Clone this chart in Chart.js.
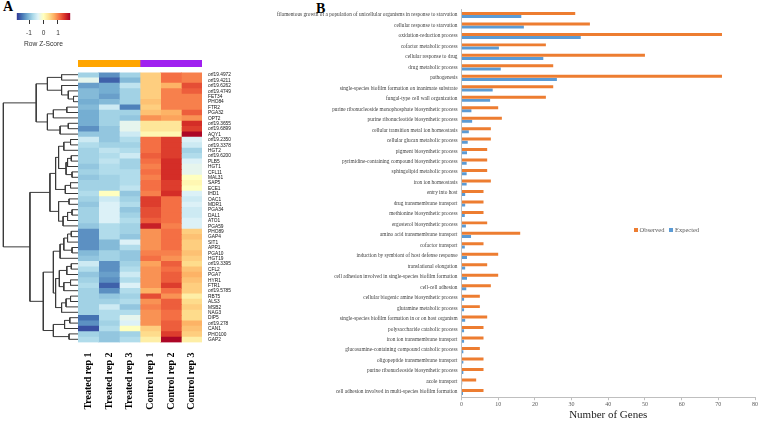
<!DOCTYPE html>
<html>
<head>
<meta charset="utf-8">
<script src="https://cdn.jsdelivr.net/npm/chart.js@4.4.0/dist/chart.umd.min.js"></script>
<style>
  html, body { margin: 0; padding: 0; background: #fff; }
  body { width: 760px; height: 421px; position: relative; overflow: hidden; }
  canvas { position: absolute; }
  .panel { position: absolute; font-family: "Liberation Serif", "Times New Roman", serif; font-weight: bold; font-size: 14px; line-height: 1; color: #000; }
  #go_legend { position: absolute; left: 634px; top: 226px; display: flex; align-items: center; font-family: "Liberation Serif", serif; font-size: 6.5px; color: #595959; white-space: nowrap; }
  #go_legend .box { display: inline-block; width: 4px; height: 4px; margin-right: 1.5px; }
  #go_legend .item { display: flex; align-items: center; margin-right: 5px; }
</style>
</head>
<body>
<div class="panel" style="left:3px; top:0px;">A</div>
<div class="panel" style="left:316px; top:2px;">B</div>
<canvas id="key" width="70" height="40" style="left:10px; top:8px; width:70px; height:40px;"></canvas>
<canvas id="groups"></canvas>
<canvas id="dendro"></canvas>
<canvas id="go" width="510" height="421" style="left:250px; top:0px; width:510px; height:421px;"></canvas>
<canvas id="heat" width="170" height="349" style="left:78px; top:72px; width:170px; height:349px;"></canvas>
<div id="go_legend"></div>
<script>
// ---- Panel A: heatmap ----
const sampleNames = ["Treated rep 1", "Treated rep 2", "Treated rep 3", "Control rep 1", "Control rep 2", "Control rep 3"];
const groupNames = ["Treated", "Control"];
const groupSizes = [3, 3];
const groupColors = ["#ffa500", "#a020f0"];

const geneNames = [
  "orf19.4972", "orf19.4211", "orf19.6262", "orf19.4749", "FET34", "PHO84", "FTR2", "PGA32", "OPT2", "orf19.3655",
  "orf19.6899", "AQY1", "orf19.2350", "orf19.3378", "HGT2", "orf19.6200", "PLB5", "HGT1", "CFL11", "MAL31",
  "SAP5", "ECE1", "IHD1", "OAC1", "MDR1", "PGA34", "DAL1", "ATO1", "PGA59", "PHO89",
  "GAP4", "SIT1", "APR1", "PGA10", "HGT19", "orf19.3395", "CFL2", "PGA7", "HYR1", "FTR1",
  "orf19.5785", "RBT5", "ALS3", "MSB2", "NAG3", "DIP5", "orf19.278", "CAN1", "PHO100", "GAP2"
];

// row z-scores, one row per gene: T1, T2, T3, C1, C2, C3
const zScores = [
  [-0.8, -1.3, -0.8, 0.5, 1.1, 1.0],
  [-0.3, -1.6, -1.0, 0.5, 1.1, 1.0],
  [-1.2, -1.1, -0.6, 0.5, 0.7, 1.3],
  [-1.0, -1.1, -0.8, 0.5, 1.0, 1.2],
  [-1.0, -1.2, -0.8, 0.5, 1.0, 1.0],
  [-1.1, -1.0, -0.8, 0.6, 1.0, 1.0],
  [-1.0, -0.5, -1.4, 0.5, 1.0, 1.0],
  [-1.1, -0.8, -0.8, 0.6, 0.7, 1.2],
  [-1.1, -0.8, -0.9, 0.9, 0.8, 0.9],
  [-1.1, -0.8, -0.3, 0.3, 0.3, 1.5],
  [-1.3, -0.9, -0.3, 0.3, 0.3, 1.4],
  [-0.9, -0.9, -0.5, 0.1, 0.1, 1.8],
  [-0.5, -0.9, -0.7, 1.1, 1.4, -0.4],
  [-0.7, -0.8, -0.8, 1.1, 1.4, -0.5],
  [-0.8, -0.6, -0.7, 1.1, 1.4, -0.8],
  [-0.8, -0.7, -0.5, 1.2, 1.4, -0.7],
  [-0.8, -0.6, -0.8, 1.1, 1.5, -0.4],
  [-0.9, -0.7, -0.8, 1.0, 1.5, -0.3],
  [-0.8, -0.7, -0.7, 1.1, 1.5, -0.3],
  [-0.9, -0.8, -0.7, 1.0, 1.5, 0.0],
  [-0.8, -0.8, -0.7, 1.1, 1.4, 0.1],
  [-0.8, -0.8, -0.6, 1.1, 1.4, 0.0],
  [-0.7, 0.0, -0.9, 1.0, 1.5, -0.4],
  [-0.8, -0.5, -0.8, 1.4, 1.1, -0.5],
  [-0.9, -0.4, -0.7, 1.4, 1.1, -0.4],
  [-0.8, -0.4, -0.9, 1.3, 1.1, -0.5],
  [-0.8, -0.4, -0.8, 1.3, 1.1, -0.5],
  [-0.8, -0.4, -0.7, 1.2, 1.1, -0.4],
  [-0.9, -0.7, -0.8, 1.6, 1.0, -0.4],
  [-1.3, -0.7, -0.8, 0.9, 1.1, 0.5],
  [-1.3, -0.7, -0.9, 0.9, 1.1, 0.6],
  [-1.3, -1.0, -0.4, 0.9, 1.1, 0.5],
  [-1.3, -1.0, -0.7, 0.9, 1.1, 0.5],
  [-1.0, -0.8, -0.9, 1.0, 1.0, 0.6],
  [-0.9, -0.8, -0.9, 1.1, 0.9, 0.5],
  [-0.5, -1.3, -0.8, 0.8, 1.2, 0.4],
  [-0.7, -1.3, -0.7, 0.9, 1.1, 0.6],
  [-0.9, -1.2, -0.5, 0.9, 1.2, 0.7],
  [-0.8, -1.3, -0.7, 0.9, 1.2, 0.6],
  [-0.7, -1.6, -0.4, 0.9, 1.4, 0.5],
  [-0.8, -1.3, -0.7, 0.7, 1.1, 0.5],
  [-0.8, -0.9, -0.8, 1.3, 0.9, 0.2],
  [-0.8, -0.8, -0.7, 0.9, 1.2, 0.4],
  [-0.8, -0.5, -0.9, 1.0, 1.2, 0.5],
  [-0.8, -0.7, -0.7, 0.9, 1.1, 0.4],
  [-1.5, -0.7, -0.3, 0.9, 1.1, 0.4],
  [-1.3, -0.8, -0.4, 0.9, 1.2, 0.7],
  [-1.7, -0.7, 0.0, 0.5, 1.2, 0.6],
  [-0.8, -0.9, -0.8, 0.4, 1.4, 0.5],
  [-0.7, -0.9, -0.7, 0.2, 1.8, 0.2]
];

const keyRange = [-1.85, 1.85];
const keyTicks = [-1, 0, 1];
const keyPalette = ["#313695", "#4575b4", "#74add1", "#abd9e9", "#e0f3f8", "#ffffbf", "#fee090", "#fdae61", "#f46d43", "#d73027", "#a50026"];

// row dendrogram: [merge height, left, right], leaves are row indexes
const treeA1 = [4.1, [2.2, 0, 1], [2.2, 2, [1.3, 3, [0.6, 4, 5]]]];
const treeA2 = [4.1, [3.3, [1.5, 6, 7], 8], [2.4, [1.3, 9, 10], 11]];
const treeB1 = [3.0, [2.6, [1.9, [1.0, 12, 13], 14], [1.6, [1.4, [0.9, 15, 16], 17], [0.8, 18, 19]]], [1.7, [1.0, 20, 21], 22]];
const treeB2 = [2.6, [1.2, 23, 24], [2.0, [1.4, [0.8, 25, 26], 27], 28]];
const treeC1 = [2.4, [1.9, [1.4, [0.9, 29, 30], 31], [0.8, 32, 33]], 34];
const treeC2 = [3.0, [2.5, [1.5, [0.9, 35, 36], 37], [1.9, [1.0, 38, 39], 40]], [2.2, [1.6, [1.0, 41, 42], 43], 44]];
const treeC3 = [3.3, [1.8, [1.1, 45, 46], 47], [1.2, 48, 49]];
const rowTree = [10, [5.6, treeA1, treeA2], [6.44, [3.76, treeB1, treeB2], [4.65, [3.3, treeC1, treeC2], treeC3]]];

// ---- Panel B: GO enrichment ----
const goTerms = [
  "filamentous growth of a population of unicellular organisms in response to starvation",
  "cellular response to starvation",
  "oxidation-reduction process",
  "cofactor metabolic process",
  "cellular response to drug",
  "drug metabolic process",
  "pathogenesis",
  "single-species biofilm formation on inanimate substrate",
  "fungal-type cell wall organization",
  "purine ribonucleoside monophosphate biosynthetic process",
  "purine ribonucleotide biosynthetic process",
  "cellular transition metal ion homeostasis",
  "cellular glucan metabolic process",
  "pigment biosynthetic process",
  "pyrimidine-containing compound biosynthetic process",
  "sphingolipid metabolic process",
  "iron ion homeostasis",
  "entry into host",
  "drug transmembrane transport",
  "methionine biosynthetic process",
  "ergosterol biosynthetic process",
  "amino acid transmembrane transport",
  "cofactor transport",
  "induction by symbiont of host defense response",
  "translational elongation",
  "cell adhesion involved in single-species biofilm formation",
  "cell-cell adhesion",
  "cellular biogenic amine biosynthetic process",
  "glutamine metabolic process",
  "single-species biofilm formation in or on host organism",
  "polysaccharide catabolic process",
  "iron ion transmembrane transport",
  "glucosamine-containing compound catabolic process",
  "oligopeptide transmembrane transport",
  "purine ribonucleoside biosynthetic process",
  "azole transport",
  "cell adhesion involved in multi-species biofilm formation"
];
const observedCounts = [31, 35, 71, 23, 50, 25, 71, 25, 23, 10, 11, 8, 8, 7, 7, 7, 8, 6, 6, 6, 7, 16, 6, 10, 7, 10, 8, 5, 5, 7, 6, 6, 5, 6, 6, 4, 6];
const expectedCounts = [16.3, 17, 32.5, 10.2, 22.3, 10.7, 26, 8.5, 7.8, 2.7, 2.9, 2, 1.7, 1.5, 1.4, 1.4, 1.4, 1, 1, 0.9, 1.2, 2.6, 0.9, 1.5, 1, 1.5, 1.3, 0.7, 0.7, 1, 0.7, 0.7, 0.5, 0.5, 0.5, 0.2, 0.4];

const SERIF = "'Liberation Serif', 'Times New Roman', serif";
const SANS = "'Liberation Sans', Arial, sans-serif";

function hex_to_rgb(h) {
  return [parseInt(h.slice(1, 3), 16), parseInt(h.slice(3, 5), 16), parseInt(h.slice(5, 7), 16)];
}

function z_color(z) {
  let t = (z - keyRange[0]) / (keyRange[1] - keyRange[0]);
  t = Math.min(1, Math.max(0, t));
  const pos = t * (keyPalette.length - 1);
  const i = Math.min(Math.floor(pos), keyPalette.length - 2);
  const f = pos - i;
  const a = hex_to_rgb(keyPalette[i]);
  const b = hex_to_rgb(keyPalette[i + 1]);
  const c = a.map((v, k) => Math.round(v + (b[k] - v) * f));
  return `rgb(${c[0]}, ${c[1]}, ${c[2]})`;
}

const no_plugins = { legend: { display: false }, tooltip: { enabled: false } };

// Color key
new Chart(document.getElementById("key"), {
  type: "bar",
  data: {
    labels: [""],
    datasets: [{
      data: [keyRange],
      barPercentage: 1,
      categoryPercentage: 1,
      borderWidth: 0,
      backgroundColor: function (ctx) {
        const chart = ctx.chart;
        if (!chart.chartArea) return keyPalette[5];
        const x = chart.scales.x;
        const g = chart.ctx.createLinearGradient(x.getPixelForValue(keyRange[0]), 0, x.getPixelForValue(keyRange[1]), 0);
        keyPalette.forEach((c, i) => g.addColorStop(i / (keyPalette.length - 1), c));
        return g;
      },
    }],
  },
  options: {
    indexAxis: "y",
    responsive: false,
    maintainAspectRatio: false,
    animation: false,
    layout: { padding: { left: 6.7, right: 9.7, top: 5, bottom: 0 } },
    plugins: no_plugins,
    scales: {
      x: {
        type: "linear",
        min: keyRange[0],
        max: keyRange[1],
        afterBuildTicks: (s) => { s.ticks = keyTicks.map((v) => ({ value: v })); },
        ticks: { font: { family: SANS, size: 6.5 }, color: "#333", padding: 5 },
        grid: { drawOnChartArea: false, tickLength: 4, color: "#333" },
        border: { display: false },
        title: { display: true, text: "Row Z-Score", font: { family: SANS, size: 6.7, lineHeight: 1.2 }, color: "#333", padding: { top: 0, bottom: 0 } },
        afterFit: (s) => { s.height = 28; },
      },
      y: { display: false },
    },
  },
});

// Heatmap cells: stacked unit bars, one dataset per sample
const heatLeft = 78, heatTop = 72, heatWidth = 170, heatHeight = 349;
const heatCanvas = document.getElementById("heat");
const heatChart = new Chart(heatCanvas, {
  type: "bar",
  data: {
    labels: geneNames,
    datasets: sampleNames.map((s, j) => ({
      label: s,
      data: geneNames.map(() => 1),
      backgroundColor: zScores.map((row) => z_color(row[j])),
      borderWidth: 0,
      barPercentage: 1,
      categoryPercentage: 1,
    })),
  },
  options: {
    indexAxis: "y",
    responsive: false,
    maintainAspectRatio: false,
    animation: false,
    layout: { padding: 0 },
    plugins: no_plugins,
    scales: {
      x: { stacked: true, display: false, min: 0, max: sampleNames.length },
      y: {
        stacked: true,
        position: "right",
        grid: { display: false, drawTicks: false },
        border: { display: false },
        ticks: { autoSkip: false, padding: 6, font: { family: SANS, size: 4.8, lineHeight: 1 }, color: "#111" },
        afterFit: (s) => { s.width = 46; },
      },
      x2: {
        type: "category",
        labels: sampleNames,
        position: "bottom",
        offset: true,
        grid: { display: false, drawTicks: false },
        border: { display: false },
        ticks: { minRotation: 90, maxRotation: 90, padding: 10, font: { family: SERIF, size: 10, weight: "bold" }, color: "#000" },
        afterFit: (s) => { s.height = 79; },
      },
    },
  },
});

// shift the canvas so the cell area starts exactly at heatTop
const topGap = heatChart.chartArea.top;
if (topGap > 0) {
  heatCanvas.style.top = (heatTop - topGap) + "px";
  heatChart.resize(heatWidth, heatHeight + topGap);
}
const area = heatChart.chartArea;
const areaTop = parseFloat(heatCanvas.style.top) + area.top;
const areaHeight = area.bottom - area.top;

// Group annotation bar above the heatmap
const groupCanvas = document.getElementById("groups");
groupCanvas.width = area.right - area.left;
groupCanvas.height = 7;
groupCanvas.style.left = (heatLeft + area.left) + "px";
groupCanvas.style.top = (areaTop - 12) + "px";
groupCanvas.style.width = groupCanvas.width + "px";
groupCanvas.style.height = "7px";
new Chart(groupCanvas, {
  type: "bar",
  data: {
    labels: [""],
    datasets: groupNames.map((g, i) => ({
      label: g,
      data: [groupSizes[i]],
      backgroundColor: groupColors[i],
      borderWidth: 0,
      barPercentage: 1,
      categoryPercentage: 1,
    })),
  },
  options: {
    indexAxis: "y",
    responsive: false,
    maintainAspectRatio: false,
    animation: false,
    layout: { padding: 0 },
    plugins: no_plugins,
    scales: {
      x: { stacked: true, display: false, min: 0, max: sampleNames.length },
      y: { stacked: true, display: false },
    },
  },
});

// Row dendrogram
const dendroLinks = [];
function layout_tree(node) {
  if (typeof node === "number") return { y: node + 0.5, h: 0 };
  const a = layout_tree(node[1]);
  const b = layout_tree(node[2]);
  dendroLinks.push([
    { x: a.h, y: a.y },
    { x: node[0], y: a.y },
    { x: node[0], y: b.y },
    { x: b.h, y: b.y },
  ]);
  return { y: (a.y + b.y) / 2, h: node[0] };
}
layout_tree(rowTree);

const dendroCanvas = document.getElementById("dendro");
dendroCanvas.width = heatLeft + area.left;
dendroCanvas.height = Math.round(areaHeight);
dendroCanvas.style.left = "0px";
dendroCanvas.style.top = areaTop + "px";
dendroCanvas.style.width = dendroCanvas.width + "px";
dendroCanvas.style.height = dendroCanvas.height + "px";
new Chart(dendroCanvas, {
  type: "scatter",
  data: {
    datasets: dendroLinks.map((pts) => ({
      data: pts,
      showLine: true,
      borderColor: "#3a3a3a",
      borderWidth: 1,
      pointRadius: 0,
      clip: false,
    })),
  },
  options: {
    responsive: false,
    maintainAspectRatio: false,
    animation: false,
    layout: { padding: 0 },
    plugins: no_plugins,
    scales: {
      x: { type: "linear", min: 0, max: 10.45, reverse: true, display: false },
      y: { type: "linear", min: 0, max: geneNames.length, reverse: true, display: false },
    },
  },
});

// ---- Panel B chart ----
const goChart = new Chart(document.getElementById("go"), {
  type: "bar",
  data: {
    labels: goTerms,
    datasets: [
      { label: "Observed", data: observedCounts, backgroundColor: "#ed7d31" },
      { label: "Expected", data: expectedCounts, backgroundColor: "#5b9bd5" },
    ],
  },
  options: {
    indexAxis: "y",
    responsive: false,
    maintainAspectRatio: false,
    animation: false,
    datasets: { bar: { categoryPercentage: 0.6, barPercentage: 0.95 } },
    layout: { padding: { top: 9.8, right: 5, left: 0, bottom: 0 } },
    plugins: no_plugins,
    scales: {
      x: {
        min: 0,
        max: 80,
        ticks: { stepSize: 10, font: { family: SERIF, size: 6 }, color: "#595959", padding: 1 },
        grid: { drawOnChartArea: false, tickLength: 3, color: "#bfbfbf" },
        border: { color: "#bfbfbf" },
        title: { display: true, text: "Number of Genes", font: { family: SERIF, size: 11, lineHeight: 1 }, color: "#222", padding: 0 },
        afterFit: (s) => { s.height = 23.8; },
      },
      y: {
        ticks: { autoSkip: false, font: { family: SERIF, size: 5.3, lineHeight: 1 }, color: "#404040", padding: 4 },
        grid: { drawOnChartArea: false, drawTicks: false, color: "#bfbfbf" },
        border: { color: "#bfbfbf" },
        afterFit: (s) => { s.width = 211.5; },
      },
    },
  },
});

// HTML legend from the chart's datasets
const legendBox = document.getElementById("go_legend");
goChart.data.datasets.forEach(function (ds) {
  legendBox.innerHTML += `<span class="item"><span class="box" style="background:${ds.backgroundColor}"></span>${ds.label}</span>`;
});
</script>
</body>
</html>
